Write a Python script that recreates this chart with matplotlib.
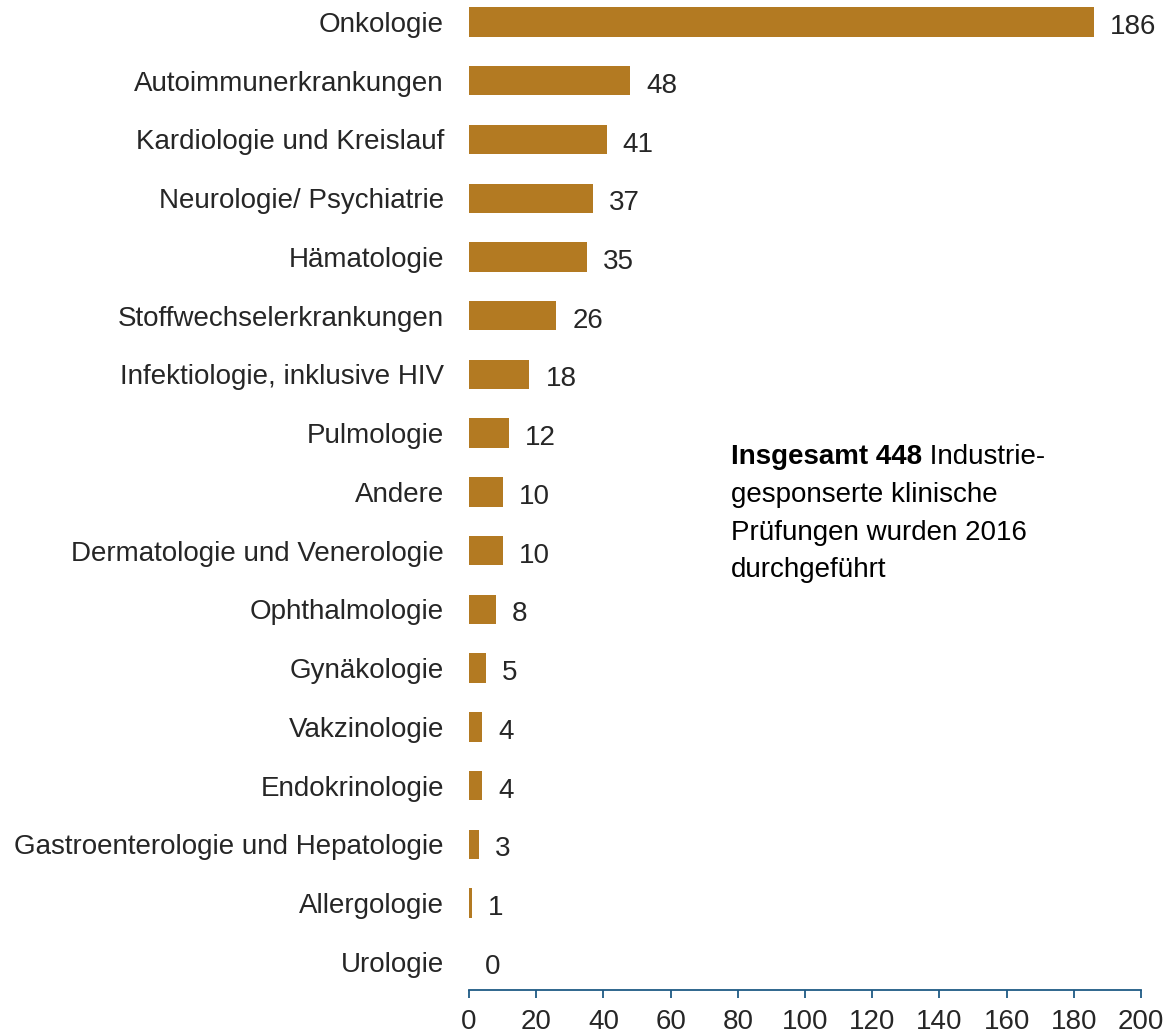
import matplotlib
matplotlib.use("Agg")
import matplotlib.pyplot as plt

categories = ["Onkologie", "Autoimmunerkrankungen", "Kardiologie und Kreislauf",
              "Neurologie/ Psychiatrie", "Hämatologie", "Stoffwechselerkrankungen",
              "Infektiologie, inklusive HIV", "Pulmologie", "Andere",
              "Dermatologie und Venerologie", "Ophthalmologie", "Gynäkologie",
              "Vakzinologie", "Endokrinologie", "Gastroenterologie und Hepatologie",
              "Allergologie", "Urologie"]
values = [186, 48, 41, 37, 35, 26, 18, 12, 10, 10, 8, 5, 4, 4, 3, 1, 0]
xticks = [0, 20, 40, 60, 80, 100, 120, 140, 160, 180, 200]

plt.rcParams['font.family'] = ['Liberation Sans', 'DejaVu Sans']

W, H = 1174, 1036
fig = plt.figure(figsize=(W / 100, H / 100), dpi=100)
left = 469 / W
right = 1141 / W
bottom = 1 - 990 / H
ax = fig.add_axes([left, bottom, right - left, 1 - bottom])

bar_color = "#B37A22"
text_color = "#262626"
axis_color = "#1F5A85"
fs = 20

ypos = list(range(len(categories)))
ax.barh(ypos, values, height=0.5, color=bar_color, linewidth=0)

for y, v in zip(ypos, values):
    ax.annotate(str(v), xy=(v, y), xytext=(11.5, -1.5), textcoords="offset points",
                va="center_baseline", ha="left", fontsize=fs, color=text_color)

ax.set_xlim(0, 200)
ax.set_ylim(16.48, -0.374)
ax.set_xticks(xticks)
ax.set_xticklabels([str(t) for t in xticks])
ax.set_yticks(ypos)
ax.set_yticklabels(categories, va="center_baseline")

for s in ["top", "right", "left"]:
    ax.spines[s].set_visible(False)
ax.spines["bottom"].set_color(axis_color)
ax.spines["bottom"].set_linewidth(1.3)
ax.tick_params(axis="x", direction="out", length=6, width=1.3, color=axis_color,
               labelsize=20, labelcolor=text_color, pad=8)
ax.tick_params(axis="y", length=0, labelsize=fs, labelcolor=text_color, pad=18)

# annotation
line_y = [7.41, 8.06, 8.70, 9.33]
tx = 78
t1 = ax.text(tx, line_y[0], "Insgesamt 448", fontsize=fs, fontweight="bold",
             va="center", ha="left", color="black")
ax.annotate(" Industrie-", xy=(1, 0), xycoords=t1, va="bottom", ha="left",
            fontsize=fs, color="black")
ax.text(tx, line_y[1], "gesponserte klinische", fontsize=fs, va="center", ha="left", color="black")
ax.text(tx, line_y[2], "Prüfungen wurden 2016", fontsize=fs, va="center", ha="left", color="black")
ax.text(tx, line_y[3], "durchgeführt", fontsize=fs, va="center", ha="left", color="black")

fig.savefig("out.png", dpi=100)
